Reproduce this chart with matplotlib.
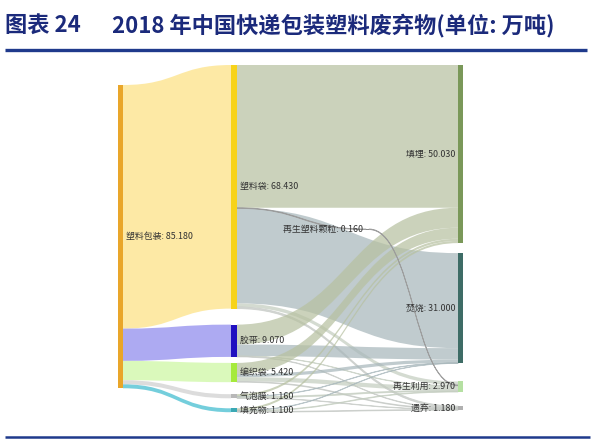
import matplotlib
matplotlib.use("Agg")
import matplotlib.pyplot as plt
from matplotlib.path import Path
from matplotlib.patches import PathPatch, Rectangle

plt.rcParams['font.family'] = ['Noto Sans CJK SC', 'DejaVu Sans']

# data (万吨)
total_name = '塑料包装'
total_value = 85.18
types = ['塑料袋', '胶带', '编织袋', '气泡膜', '填充物']
type_values = [68.43, 9.07, 5.42, 1.16, 1.10]
ends = ['填埋', '焚烧', '再生利用', '遗弃']
end_values = [50.03, 31.00, 2.97, 1.18]
granule_name = '再生塑料颗粒'
granule_value = 0.16
# type -> end flows, rows follow types, columns follow ends
type_to_end = [
    [40.10, 26.70, 1.00, 0.47],
    [5.60, 3.20, 0.12, 0.15],
    [3.10, 0.90, 1.20, 0.22],
    [0.63, 0.10, 0.30, 0.13],
    [0.60, 0.10, 0.19, 0.21],
]

# colours
node_colors = {
    total_name: '#e9a62a',
    '塑料袋': '#f7d31a', '胶带': '#2010c0', '编织袋': '#a6ea3c',
    '气泡膜': '#b8b8b8', '填充物': '#3aa8b4',
    '填埋': '#7a9859', '焚烧': '#3e6c66', '再生利用': '#b5e0a2', '遗弃': '#b0b0b0',
    granule_name: '#8a8a8a',
}
band_colors = {
    '塑料袋': '#fde696', '胶带': '#9f9bf0', '编织袋': '#d4f9b0',
    '气泡膜': '#d6d6d6', '填充物': '#5cc6d6',
    '填埋': '#b7c1a1', '焚烧': '#a8b7bb', '再生利用': '#c4cdc0', '遗弃': '#c4c8c4',
}

W, H = 604, 444
k = 3.56  # px per 万吨

fig = plt.figure(figsize=(W / 100, H / 100), dpi=100)
ax = fig.add_axes([0, 0, 1, 1])
ax.set_xlim(0, W)
ax.set_ylim(H, 0)
ax.axis('off')

# node layout: name -> [x, top, height, width]
nodes = {}
nodes[total_name] = [118, 85, total_value * k, 5]
y = 65
for name, v, gap in zip(types, type_values, [16, 6, 12, 10, 0]):
    nodes[name] = [231, y, v * k, 6]
    y += v * k + gap
y = 65
for name, v, gap in zip(ends, end_values, [10, 18, 14, 0]):
    nodes[name] = [458, y, v * k, 5]
    y += v * k + gap
nodes[granule_name] = [366, 229, granule_value * k, 3]

links = []
for name, v in zip(types, type_values):
    links.append((total_name, name, v, band_colors[name], 0.85))
for i, name in enumerate(types):
    for j, end in enumerate(ends):
        links.append((name, end, type_to_end[i][j], band_colors[end], 0.72))
links.append(('塑料袋', granule_name, granule_value, '#9a9a9a', 0.9))
links.append((granule_name, '再生利用', granule_value, '#9a9a9a', 0.9))


def center(n):
    x, t, h, w = nodes[n]
    return t + h / 2


out_off = {n: nodes[n][1] for n in nodes}
in_off = {n: nodes[n][1] for n in nodes}
out_pos = {}
in_pos = {}
for n in nodes:
    outs = sorted([l for l in links if l[0] == n], key=lambda l: center(l[1]))
    for l in outs:
        out_pos[(l[0], l[1])] = out_off[n]
        out_off[n] += l[2] * k
    ins = sorted([l for l in links if l[1] == n], key=lambda l: center(l[0]))
    for l in ins:
        in_pos[(l[0], l[1])] = in_off[n]
        in_off[n] += l[2] * k


def band(x0, y0, x1, y1, h, color, alpha):
    xm = (x0 + x1) / 2
    verts = [(x0, y0), (xm, y0), (xm, y1), (x1, y1),
             (x1, y1 + h), (xm, y1 + h), (xm, y0 + h), (x0, y0 + h), (x0, y0)]
    codes = [Path.MOVETO, Path.CURVE4, Path.CURVE4, Path.CURVE4,
             Path.LINETO, Path.CURVE4, Path.CURVE4, Path.CURVE4, Path.CLOSEPOLY]
    patch = PathPatch(Path(verts, codes), facecolor=color, edgecolor=color,
                      lw=0.6 if h < 2 else 0, alpha=alpha)
    ax.add_patch(patch)


for s, t, v, c, a in links:
    xs = nodes[s][0] + nodes[s][3]
    xt = nodes[t][0]
    band(xs, out_pos[(s, t)], xt, in_pos[(s, t)], v * k, c, a)

for n, (x, t, h, w) in nodes.items():
    ax.add_patch(Rectangle((x, t), w, max(h, 1.2), color=node_colors[n], lw=0))

lab = dict(fontsize=6.4, color='#333333', va='center')
ax.text(126, center(total_name), f'{total_name}: {total_value:.3f}', ha='left', **lab)
for name, v in zip(types, type_values):
    ax.text(240, center(name), f'{name}: {v:.3f}', ha='left', **lab)
for name, v in zip(ends, end_values):
    ax.text(455, center(name), f'{name}: {v:.3f}', ha='right', **lab)
ax.text(363, center(granule_name), f'{granule_name}: {granule_value:.3f}', ha='right', **lab)

# title and rules
tstyle = dict(fontsize=16, fontweight='bold', color='#1b2a7b', va='center', ha='left')
ax.text(5, 25, '图表 24', **tstyle)
ax.text(112, 25, '2018 年中国快递包装塑料废弃物(单位: 万吨)', **tstyle)
ax.plot([5, 587], [50, 50], color='#1f3a8c', lw=2.4, solid_capstyle='butt')
ax.plot([5, 590], [437, 437], color='#1f3a8c', lw=1.8, solid_capstyle='butt')

fig.savefig('out.png', dpi=100)
